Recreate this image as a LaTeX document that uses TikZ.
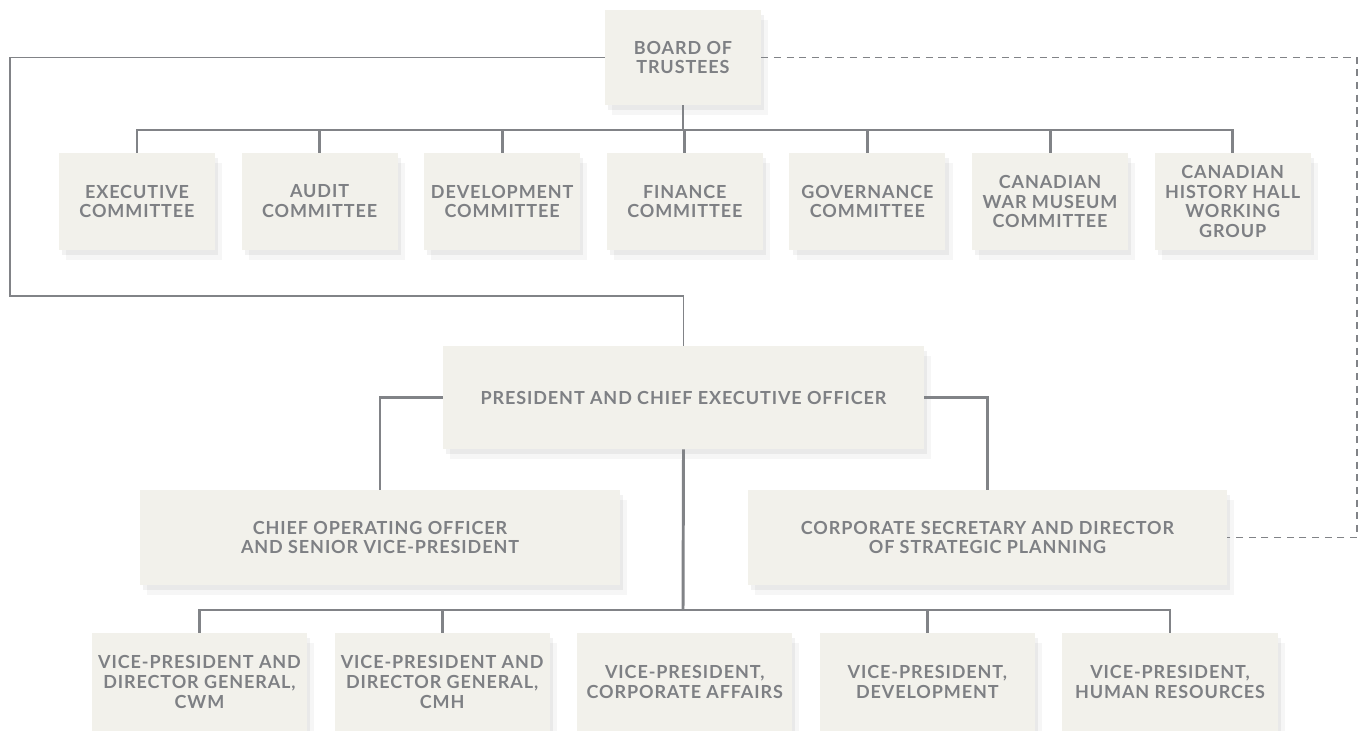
\documentclass[tikz,border=0pt]{standalone}
\usepackage{fontspec}
\setmainfont{Lato}
\usetikzlibrary{positioning}
\usetikzlibrary{shadows}
\definecolor{boxfill}{HTML}{F2F1EB}
\definecolor{inkgray}{HTML}{7E8084}
\definecolor{wiregray}{HTML}{818387}
\begin{document}
\begin{tikzpicture}[x=0.025cm, y=-0.025cm,
	orgbox/.style={rectangle, fill=boxfill, text=inkgray, align=center, inner sep=0pt,
		font=\addfontfeature{LetterSpace=5}\bfseries\fontsize{12.8}{14.2}\selectfont,
		drop shadow={shadow xshift=0.18cm, shadow yshift=-0.24cm, opacity=0.035, fill=black},
		drop shadow={shadow xshift=0.08cm, shadow yshift=-0.12cm, opacity=0.05, fill=black}},
	cbox/.style={orgbox, minimum width=3.9cm, minimum height=2.425cm},
	vpbox/.style={orgbox, minimum width=5.375cm, minimum height=2.45cm},
	wire/.style={draw=wiregray, line width=2.1pt},
	thinwire/.style={draw=wiregray, line width=1.2pt},
	dashwire/.style={draw=wiregray, line width=1.1pt, dash pattern=on 5pt off 4pt},
	node distance = 0.65cm]
	\useasboundingbox (0,0) rectangle (1360,730);
	% top
	\node[orgbox, minimum width=3.9cm, minimum height=2.375cm] (board) at (683,57.5) {BOARD OF\\TRUSTEES};
	% committees
	\node[cbox] (exec) at (137,201.5) {EXECUTIVE\\COMMITTEE};
	\node[cbox] (audit)[right = of exec] {AUDIT\\COMMITTEE};
	\node[cbox] (devc)[right = of audit] {DEVELOPMENT\\COMMITTEE};
	\node[cbox] (fin)[right = of devc] {FINANCE\\COMMITTEE};
	\node[cbox] (gov)[right = of fin] {GOVERNANCE\\COMMITTEE};
	\node[cbox] (cwmc)[right = of gov] {CANADIAN\\WAR MUSEUM\\COMMITTEE};
	\node[cbox] (hist)[right = of cwmc] {CANADIAN\\HISTORY HALL\\WORKING\\GROUP};
	% president and direct reports
	\node[orgbox, minimum width=12.025cm, minimum height=2.575cm] (pres) at (683.5,397.5) {PRESIDENT AND CHIEF EXECUTIVE OFFICER};
	\node[orgbox, minimum width=12cm, minimum height=2.375cm] (coo) at (380,537.5) {CHIEF OPERATING OFFICER\\AND SENIOR VICE-PRESIDENT};
	\node[orgbox, minimum width=11.975cm, minimum height=2.375cm] (corpsec) at (987.5,537.5) {CORPORATE SECRETARY AND DIRECTOR\\OF STRATEGIC PLANNING};
	% vice-presidents
	\node[vpbox] (vpcwm) at (199.5,682) {VICE-PRESIDENT AND\\DIRECTOR GENERAL,\\CWM};
	\node[vpbox] (vpcmh)[right = 0.675cm of vpcwm] {VICE-PRESIDENT AND\\DIRECTOR GENERAL,\\CMH};
	\node[vpbox] (vpca)[right = 0.675cm of vpcmh] {VICE-PRESIDENT,\\CORPORATE AFFAIRS};
	\node[vpbox] (vpdev)[right = 0.675cm of vpca] {VICE-PRESIDENT,\\DEVELOPMENT};
	\node[vpbox] (vphr)[right = 0.675cm of vpdev] {VICE-PRESIDENT,\\HUMAN RESOURCES};
	% bus points
	\coordinate (combus) at (683,130);
	\coordinate (vpbus) at (683,610);
	\coordinate (lefttop) at (10,57.5);
	\coordinate (leftbot) at (10,296);
	\coordinate (righttop) at (1357,57.5);
	% connectors
	\draw[wire] (board.south) -- (combus);
	\draw[wire] (exec.north) |- (combus) -| (hist.north);
	\foreach \c in {audit,devc,fin,gov,cwmc}
		\draw[wire] (\c.north) -- (\c.north |- combus);
	\draw[thinwire] (board.west) -- (lefttop) -- (leftbot) -| (pres.north);
	\draw[dashwire] (board.east) -- (righttop) |- (corpsec.east);
	\draw[wire] (pres.west) -| (coo.north);
	\draw[wire] (pres.east) -| (corpsec.north);
	\draw[wire] (pres.south) -- (vpbus);
	\draw[wire] (vpcwm.north) |- (vpbus) -| (vphr.north);
	\foreach \v in {vpcmh,vpdev}
		\draw[wire] (\v.north) -- (\v.north |- vpbus);
\end{tikzpicture}
\end{document}
